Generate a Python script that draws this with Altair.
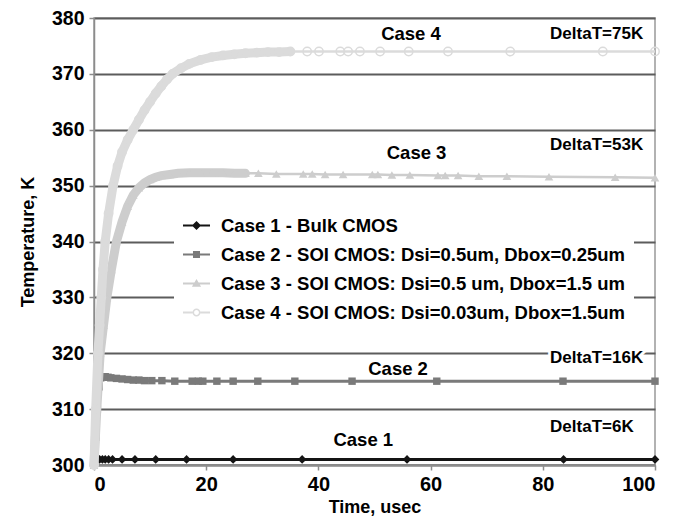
import altair as alt
import pandas as pd

# ---------------- data ----------------
CASES = ["Case 1", "Case 2", "Case 3", "Case 4"]
LEGEND_LABELS = [
    "Case 1 - Bulk CMOS",
    "Case 2 - SOI CMOS: Dsi=0.5um, Dbox=0.25um",
    "Case 3 - SOI CMOS: Dsi=0.5 um, Dbox=1.5 um",
    "Case 4 - SOI CMOS: Dsi=0.03um, Dbox=1.5um",
]

c1_t = [0, 0.3, 0.6, 1.0, 1.5, 2.0, 2.6, 3.3, 5.0, 7.3, 11, 16.5, 24.8, 37.1, 55.8, 83.7, 100]
c1_T = [300, 301, 301, 301, 301, 301, 301, 301, 301, 301, 301, 301, 301, 301, 301, 301, 301]

c2_t = [0, 0.3, 0.6, 0.9, 1.2, 1.5, 2, 2.5, 3, 4, 5, 6, 7, 8, 9, 10.3, 12.1, 14.4, 17.5,
        18.6, 19.4, 21.9, 24.8, 29.2, 35.8, 46, 61.1, 83.6, 100]
c2_T = [300, 305, 310, 314, 315.6, 315.8, 315.8, 315.7, 315.6, 315.5, 315.4, 315.3, 315.2,
        315.2, 315.1, 315.1, 315.1, 315, 315, 315, 315, 315, 315, 315, 315, 315, 315, 315, 315]

c3_t = [0, 0.5, 1.1, 1.7, 2.3, 3.1, 4.0, 5, 6, 7, 8, 9, 10, 11, 12, 13.5, 15, 17, 19, 21, 23,
        25, 27, 29.3, 32.5, 37.3, 38.9, 41.2, 44.4, 49.6, 50.6, 53.1, 56.3, 61.3, 62.6, 64.9,
        68.6, 73.6, 81.1, 92.9, 100]
c3_T = [300, 310, 320, 325, 330, 335, 340, 343.5, 346.3, 348.3, 349.6, 350.5, 351.1, 351.5,
        351.8, 352, 352.2, 352.3, 352.3, 352.3, 352.3, 352.2, 352.2, 352.2, 352.1, 352.1, 352.1,
        352, 352, 352, 352, 351.9, 351.9, 351.8, 351.8, 351.8, 351.7, 351.7, 351.6, 351.5, 351.4]

c4_t = [0, 0.3, 0.7, 1.0, 1.3, 1.6, 2.0, 2.6, 3.4, 4.2, 5, 6, 7, 8, 9, 10, 11, 12, 13, 14,
        15.5, 17, 19, 21, 23, 25, 27, 29, 31, 33, 35, 38, 40.1, 43.9, 45.3, 47.4, 51, 56.1,
        63.1, 74.2, 90.7, 100]
c4_T = [300, 310, 320, 325, 330, 335, 340, 345, 350, 353.5, 356, 358.2, 360, 361.8, 363.5,
        365, 366.5, 367.8, 369, 370, 371, 371.8, 372.5, 373, 373.3, 373.5, 373.7, 373.8,
        373.9, 373.9, 374, 374, 374, 374, 374, 374, 374, 374, 374, 374, 374, 374]

ANNOT_TEXT = ["Case 4", "Case 3", "Case 2", "Case 1"]
ANNOT_X = [56.5, 57.5, 54.2, 48.0]
ANNOT_Y = [377.1, 355.9, 317.2, 304.4]

DELTA_TEXT = ["DeltaT=75K", "DeltaT=53K", "DeltaT=16K", "DeltaT=6K"]
DELTA_X = [81.3, 81.3, 81.3, 81.3]
DELTA_Y = [377.2, 357.3, 319.2, 306.8]

# ---------------- styling ----------------
COLORS = ["#141414", "#7a7a7a", "#cdcdcd", "#dbdbdb"]
FONT = "Liberation Sans"
LEGEND_SHAPES = [
    "M-1,-0.08H1V0.08H-1Z M0,-0.34L0.34,0L0,0.34L-0.34,0Z",
    "M-1,-0.08H1V0.08H-1Z M-0.26,-0.26H0.26V0.26H-0.26Z",
    "M-1,-0.08H1V0.08H-1Z M0,-0.34L0.34,0.24H-0.34Z",
    "M-1,-0.08H-0.3V0.08H-1Z M0.3,-0.08H1V0.08H0.3Z "
    "M-0.3,0A0.3,0.3 0 1,0 0.3,0A0.3,0.3 0 1,0 -0.3,0Z "
    "M-0.18,0A0.18,0.18 0 1,1 0.18,0A0.18,0.18 0 1,1 -0.18,0Z",
]
BAND_END = [0, 10, 28, 36]
BAND_WIDTH = [3, 5, 9, 9]
LINE_WIDTH = [3, 3, 2.5, 2.5]
POINT_SHAPE = ["diamond", "square", "triangle-up", "circle"]
POINT_SIZE = [75, 55, 75, 70]

series = [(c1_t, c1_T), (c2_t, c2_T), (c3_t, c3_T), (c4_t, c4_T)]

xscale = alt.Scale(domain=[0, 100], nice=False)
yscale = alt.Scale(domain=[300, 380], nice=False)

xenc = alt.X("t:Q", scale=xscale,
             axis=alt.Axis(title="Time, usec", values=[0, 20, 40, 60, 80, 100],
                           grid=False, tickSize=5, labelPadding=4, titlePadding=4))
yenc = alt.Y("T:Q", scale=yscale,
             axis=alt.Axis(title="Temperature, K", values=list(range(300, 381, 10)),
                           grid=True, tickSize=5, labelPadding=5, titlePadding=14,
                           labelFontSize=19.5))

layers = []
for i, (tt, TT) in enumerate(series):
    df = pd.DataFrame({"t": tt, "T": TT})
    base = alt.Chart(df)
    layers.append(base.mark_line(color=COLORS[i], strokeWidth=LINE_WIDTH[i]).encode(x=xenc, y=yenc))
    if BAND_END[i] > 0:
        layers.append(
            base.transform_filter(alt.datum.t <= BAND_END[i])
            .mark_line(color=COLORS[i], strokeWidth=BAND_WIDTH[i], strokeCap="round")
            .encode(x=xenc, y=yenc)
        )
    if POINT_SHAPE[i] == "circle":
        pm = base.mark_point(shape="circle", color=COLORS[i], size=POINT_SIZE[i],
                             filled=False, strokeWidth=1.5, opacity=1)
    else:
        pm = base.mark_point(shape=POINT_SHAPE[i], color=COLORS[i], size=POINT_SIZE[i],
                             filled=True, opacity=1)
    layers.append(pm.encode(x=xenc, y=yenc))

# legend-only layer: its marks sit outside the clipped view
leg_df = pd.DataFrame({"label": LEGEND_LABELS})
legend_layer = alt.Chart(leg_df).mark_point(filled=True, clip=True, opacity=1).encode(
    x=alt.value(-200), y=alt.value(-200),
    color=alt.Color("label:N",
                    scale=alt.Scale(domain=LEGEND_LABELS, range=COLORS),
                    legend=alt.Legend(title=None, orient="none", legendX=80, legendY=185,
                                      symbolSize=729, symbolOpacity=1, labelFontSize=18.5,
                                      labelFont=FONT, labelFontWeight="bold",
                                      labelColor="#000", labelLimit=0, labelOffset=10,
                                      rowPadding=5, fillColor="white", padding=8)),
    shape=alt.Shape("label:N", scale=alt.Scale(domain=LEGEND_LABELS, range=LEGEND_SHAPES)),
)
layers.append(legend_layer)

ann_df = pd.DataFrame({"txt": ANNOT_TEXT, "t": ANNOT_X, "T": ANNOT_Y})
layers.append(alt.Chart(ann_df).mark_text(font=FONT, fontSize=18.5, fontWeight="bold",
                                          color="#000", align="center", baseline="middle")
              .encode(x=xenc, y=yenc, text="txt:N"))

dl_df = pd.DataFrame({"txt": DELTA_TEXT, "t": DELTA_X, "T": DELTA_Y})
layers.append(alt.Chart(dl_df).mark_text(font=FONT, fontSize=17, fontWeight="bold",
                                         color="white", stroke="white", strokeWidth=6,
                                         align="left", baseline="middle")
              .encode(x=xenc, y=yenc, text="txt:N"))
layers.append(alt.Chart(dl_df).mark_text(font=FONT, fontSize=17, fontWeight="bold",
                                         color="#000", align="left", baseline="middle")
              .encode(x=xenc, y=yenc, text="txt:N"))

chart = (
    alt.layer(*layers)
    .properties(width=561, height=447,
                autosize=alt.AutoSizeParams(type="none"),
                padding={"left": 86, "top": 10, "right": 24, "bottom": 52},
                background="white")
    .configure_view(stroke="#999999", strokeWidth=1.5)
    .configure_axis(labelFont=FONT, labelFontSize=20, labelFontWeight="bold", labelColor="#000",
                    titleFont=FONT, titleFontSize=18, titleFontWeight="bold", titleColor="#000",
                    domainColor="#8c8c8c", domainWidth=1.5, tickColor="#8c8c8c", tickWidth=1.5,
                    gridColor="#5c5c5c", gridWidth=1.8)
)

chart.save("out.html", embed_options={"renderer": "svg", "actions": False})
